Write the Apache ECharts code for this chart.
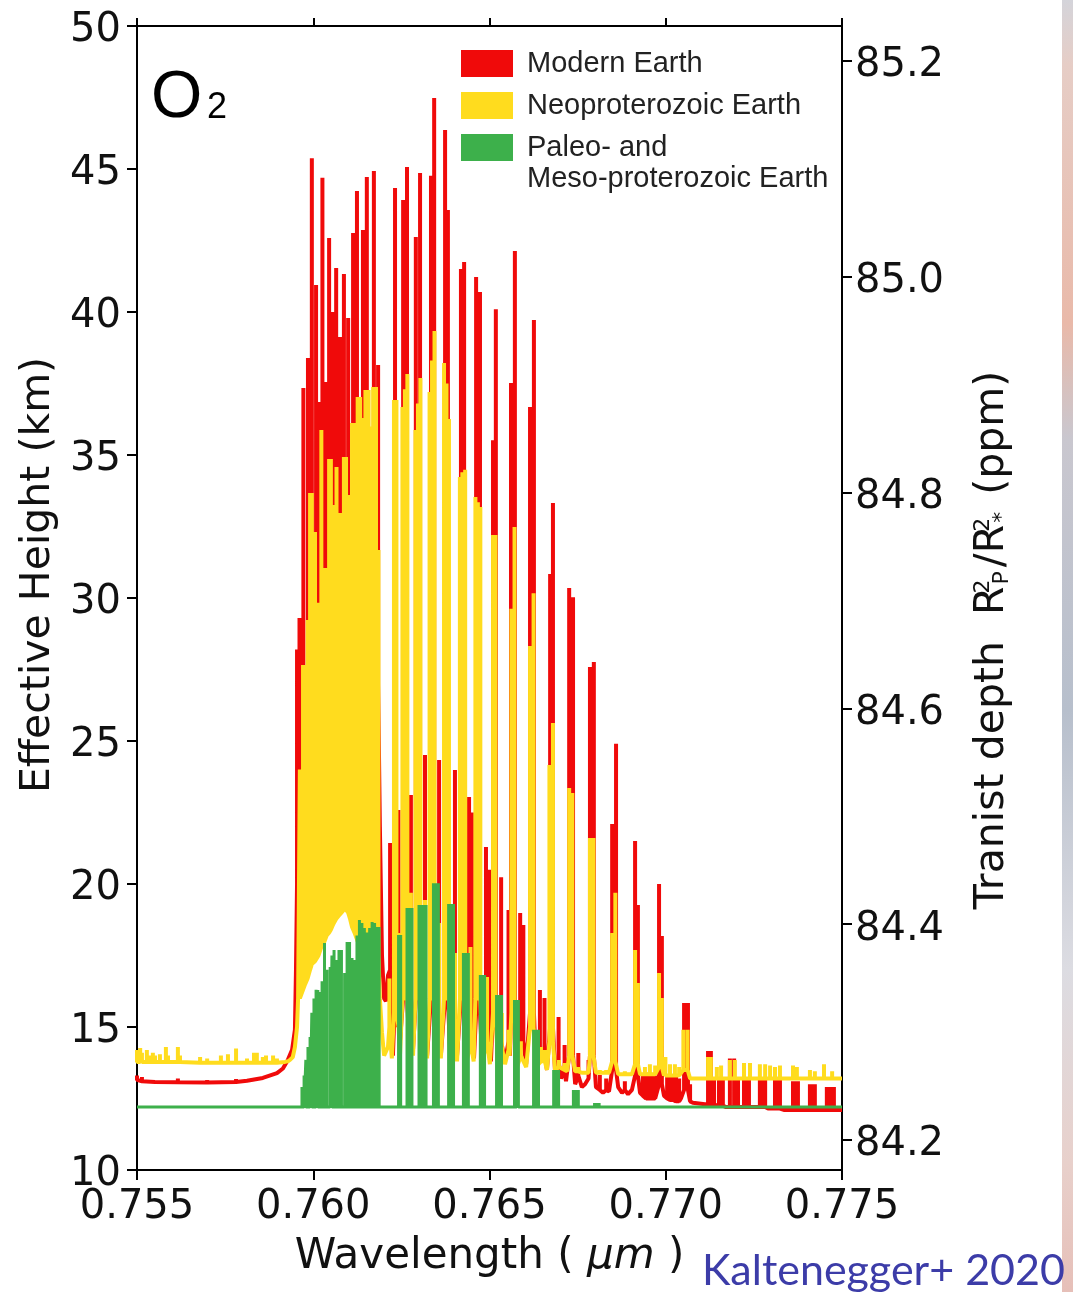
<!DOCTYPE html>
<html><head><meta charset="utf-8">
<script src="https://cdn.jsdelivr.net/npm/echarts@6/dist/echarts.min.js"></script>
<style>html,body{margin:0;padding:0;background:#fff}#chart{width:1073px;height:1292px}</style>
</head><body><div id="chart"></div>
<script>
// ---- axis ticks ----
const xTicks = [0.755, 0.760, 0.765, 0.770, 0.775];
const heightTicks = [10, 15, 20, 25, 30, 35, 40, 45, 50];
const depthTicks = [84.2, 84.4, 84.6, 84.8, 85.0, 85.2];

// ---- spectra: [wavelength (um), level (km), line peak (km) or null] ----
const modernEarth = [
 [0.75500,13.15,13.3],[0.75514,13.1,13.25],[0.75551,13.08,null],[0.75616,13.07,13.2],[0.75699,13.06,13.15],
 [0.75781,13.08,13.18],[0.75812,13.12,null],[0.75857,13.22,null],[0.75897,13.39,null],[0.75914,13.55,null],
 [0.75928,13.85,null],[0.75940,14.2,null],[0.75948,14.9,null],[0.75951,17.0,null],
 [0.75954,20.0,28.2],[0.75961,22.0,29.3],[0.75972,27,37.34],[0.75985,27,38.39],[0.75996,27,45.38],
 [0.76008,27,40.94],[0.76018,27,36.85],[0.76026,27,44.69],[0.76035,27,37.55],[0.76045,27,42.59],
 [0.76056,27,40.0],[0.76065,27,41.54],[0.76076,27,39.13],[0.76087,27,41.33],[0.76099,27,39.79],
 [0.76113,27,42.76],[0.76124,27,44.23],[0.76141,27,42.87],[0.76152,27,44.72],[0.76172,27,44.93],
 [0.76184,27,38.15],
 [0.76189,22,null],[0.76195,17.5,null],[0.76201,16.0,null],[0.76206,15.9,null],[0.76212,16.8,null],
 [0.76218,17.0,21.43],[0.76226,14.0,null],
 [0.76232,16,44.34],[0.76238,15.0,null],[0.76242,15.5,22.59],[0.76246,14.5,null],
 [0.76255,16,43.92],[0.76260,16.5,null],[0.76266,16,45.07],[0.76272,14.5,null],[0.76277,15,23.11],[0.76283,14.2,null],
 [0.76291,16,42.62],[0.76297,16.5,null],[0.76303,16,44.86],[0.76309,14.2,null],[0.76317,15,24.51],[0.76323,14.0,null],
 [0.76334,16,44.76],[0.76338,16.5,null],[0.76343,16,47.48],[0.76348,14.2,null],[0.76357,15,24.34],[0.76362,14.0,null],
 [0.76374,16,46.36],[0.76378,16.5,null],[0.76382,16,43.57],[0.76388,14.2,null],[0.76402,15,23.99],[0.76408,14.0,null],
 [0.76419,16,41.50],[0.76423,16.5,null],[0.76428,16,41.75],[0.76433,14.0,null],[0.76442,15,23.04],[0.76450,15,22.5],[0.76456,13.9,null],
 [0.76462,15.5,41.22],[0.76467,16,null],[0.76473,15.5,40.70],[0.76479,13.9,null],[0.76490,14.5,21.29],[0.76499,14.5,20.5],[0.76504,13.8,null],
 [0.76510,15.5,35.52],[0.76514,16,null],[0.76518,15.5,40.10],[0.76524,13.8,null],[0.76533,14.5,20.24],[0.76544,13.8,null],[0.76554,14.5,19.09],[0.76558,14,null],
 [0.76561,15.5,37.52],[0.76567,16,null],[0.76572,15.5,42.13],[0.76578,13.8,null],[0.76587,14.5,18.99],[0.76596,14.5,18.57],[0.76604,13.7,null],
 [0.76615,15.5,36.68],[0.76621,16,null],[0.76626,15.5,39.72],[0.76632,13.6,null],[0.76643,14.2,16.29],[0.76656,14.2,16.01],[0.76663,13.5,null],
 [0.76672,15,30.84],[0.76676,15.5,null],[0.76680,15,33.32],[0.76686,13.4,null],[0.76696,13.8,15.35],[0.76703,13.2,null],[0.76713,13.5,14.37],[0.76717,13.1,null],
 [0.76726,14,30.35],[0.76731,14.5,null],[0.76737,14,30.03],[0.76743,13.0,null],[0.76752,13.3,14.09],[0.76762,12.9,null],[0.76771,13.0,null],[0.76781,13.2,13.85],
 [0.76785,14,27.59],[0.76791,14.3,null],[0.76796,14,27.76],[0.76802,12.9,null],[0.76813,12.8,13.32],[0.76822,12.7,null],[0.76831,12.8,13.2],[0.76839,12.75,null],
 [0.76848,13.5,22.10],[0.76853,13.8,null],[0.76859,13.5,24.90],[0.76865,12.9,null],[0.76876,12.7,null],[0.76884,12.8,13.1],[0.76893,12.65,null],[0.76904,12.8,null],
 [0.76913,13.3,21.50],[0.76917,13.5,null],[0.76921,13.3,19.27],[0.76927,12.7,null],[0.76935,12.6,13.3],[0.76944,12.5,13.3],[0.76952,12.5,13.4],[0.76961,12.5,13.3],[0.76970,12.5,13.3],
 [0.76981,13.0,20.0],[0.76985,13.2,null],[0.76989,13.0,18.18],[0.76995,12.6,null],[0.77004,12.5,13.3],[0.77012,12.45,13.4],[0.77021,12.45,13.3],[0.77029,12.4,13.3],[0.77038,12.4,13.2],[0.77043,12.5,null],
 [0.77052,12.8,15.84],[0.77057,13.0,null],[0.77063,12.8,15.84],[0.77069,12.4,13.0],[0.77077,12.35,null],[0.77111,12.3,null],
 [0.77120,12.3,14.16],[0.77128,12.3,14.16],[0.77137,12.3,13.2],[0.77145,12.25,null],[0.77151,12.25,13.15],[0.77162,12.25,13.15],[0.77171,12.2,null],
 [0.77182,12.2,13.9],[0.77194,12.2,13.9],[0.77205,12.2,13.2],[0.77211,12.2,null],[0.77222,12.2,13.15],[0.77229,12.2,13.15],[0.77236,12.2,13.15],[0.77248,12.2,null],
 [0.77267,12.2,13.15],[0.77274,12.2,13.15],[0.77282,12.2,13.15],[0.77290,12.15,null],[0.77310,12.15,13.15],[0.77317,12.15,13.15],[0.77324,12.15,13.15],[0.77335,12.1,null],
 [0.77361,12.1,13.1],[0.77368,12.1,13.1],[0.77375,12.1,13.1],[0.77384,12.1,null],[0.77409,12.1,13.0],[0.77416,12.1,13.0],[0.77423,12.1,13.0],[0.77432,12.1,null],
 [0.77457,12.1,12.9],[0.77467,12.1,12.9],[0.77477,12.1,12.9],[0.77483,12.1,null],[0.77500,12.1,null]
];

const neoproterozoicEarth = [
 [0.75500,13.78,14.2],[0.75509,13.78,14.27],[0.75514,13.78,14.1],[0.75528,13.78,14.2],[0.75537,13.78,14.0],[0.75545,13.78,14.1],
 [0.75551,13.78,14.0],[0.75565,13.78,14.05],[0.75582,13.78,14.3],[0.75588,13.78,14.0],[0.75616,13.78,14.3],[0.75622,13.78,14.0],
 [0.75679,13.75,13.95],[0.75699,13.75,13.9],[0.75738,13.75,14.0],[0.75758,13.75,14.05],[0.75781,13.75,14.25],[0.75812,13.75,13.9],
 [0.75832,13.75,14.1],[0.75840,13.75,14.1],[0.75857,13.75,13.95],[0.75866,13.75,14.0],[0.75886,13.75,14.0],[0.75897,13.75,13.9],
 [0.75920,13.78,null],[0.75928,13.8,null],[0.75934,13.85,null],[0.75942,13.95,null],[0.75948,14.3,null],[0.75954,15.0,null],[0.75957,16.0,null],
 [0.75962,16.0,24.0],[0.75971,16.3,27.66],[0.75977,16.5,27.66],[0.75984,16.7,29.23],[0.75991,17.0,33.67],[0.75996,17.2,33.67],
 [0.76005,17.3,32.31],[0.76015,17.5,29.83],[0.76023,17.8,35.87],[0.76032,18.0,31.05],[0.76038,18.2,31.05],[0.76045,18.3,34.86],
 [0.76050,18.4,34.86],[0.76057,18.6,33.25],[0.76066,18.8,34.58],[0.76073,18.9,32.97],[0.76080,19.0,32.97],[0.76087,19.1,34.93],
 [0.76093,19.1,34.93],[0.76099,19.0,33.60],[0.76104,18.8,33.60],[0.76110,18.5,36.12],[0.76117,18.3,36.12],[0.76126,18.0,37.03],
 [0.76133,18.0,37.03],[0.76140,18.0,36.29],[0.76148,18.0,37.27],[0.76157,18.0,37.27],[0.76164,18.0,36.0],[0.76170,18.0,37.38],
 [0.76178,18.0,37.38],[0.76185,17.5,31.68],
 [0.76189,16.0,null],[0.76195,14.8,null],[0.76201,14.0,null],[0.76206,13.95,null],[0.76212,14.3,null],[0.76216,15.0,16.7],[0.76223,13.9,null],
 [0.76229,15.5,36.92],[0.76236,15.5,36.92],[0.76242,15,18.29],[0.76246,14.0,null],
 [0.76253,16,36.68],[0.76260,16,37.3],[0.76267,16,37.83],[0.76273,14.2,null],[0.76277,15,19.69],[0.76283,14.0,null],
 [0.76290,16,35.87],[0.76297,16,36.8],[0.76304,16,37.69],[0.76310,14.0,null],[0.76317,15,19.44],[0.76323,13.9,null],
 [0.76330,16,37.20],[0.76337,16,38.3],[0.76344,16,39.34],[0.76350,13.9,null],[0.76357,15,18.64],[0.76362,13.9,null],
 [0.76371,16,38.22],[0.76378,16,37.5],[0.76385,16,36.26],[0.76391,13.9,null],[0.76402,14.5,17.59],[0.76408,13.8,null],
 [0.76416,16,34.23],[0.76423,16,34.4],[0.76431,16,34.48],[0.76436,13.8,null],[0.76446,14.5,17.80],[0.76455,13.8,null],
 [0.76460,16,33.53],[0.76467,16,33.35],[0.76474,16,33.18],[0.76480,13.8,null],[0.76493,14.5,16.75],[0.76501,13.7,null],
 [0.76510,15.5,32.20],[0.76517,15.5,32.20],[0.76524,13.7,null],[0.76535,14.3,15.49],[0.76544,13.7,null],[0.76554,14.2,14.9],[0.76557,14,null],
 [0.76562,15.5,29.62],[0.76571,15.5,32.48],[0.76578,13.6,null],[0.76589,14.0,14.5],[0.76604,13.6,null],
 [0.76615,15,28.32],[0.76625,15,30.17],[0.76632,13.6,null],[0.76646,13.8,14.3],[0.76657,13.8,14.2],[0.76663,13.5,null],
 [0.76670,14.5,24.16],[0.76680,14.5,25.63],[0.76686,13.5,null],[0.76697,13.6,13.85],[0.76713,13.5,13.74],[0.76720,13.45,null],
 [0.76726,14,23.36],[0.76735,14,23.18],[0.76743,13.45,null],[0.76752,13.45,13.6],[0.76762,13.4,null],[0.76781,13.4,13.57],
 [0.76785,14,21.61],[0.76795,14,21.61],[0.76802,13.4,null],[0.76813,13.4,13.5],[0.76831,13.4,13.5],[0.76839,13.4,null],
 [0.76848,13.8,18.29],[0.76857,13.8,19.69],[0.76865,13.35,null],[0.76884,13.35,13.45],[0.76904,13.35,null],
 [0.76913,13.7,17.69],[0.76921,13.7,16.54],[0.76927,13.35,null],[0.76941,13.35,13.6],[0.76955,13.35,13.7],[0.76970,13.35,13.65],
 [0.76981,13.6,16.89],[0.76989,13.6,16.01],[0.76995,13.3,null],[0.76999,13.3,13.95],[0.77012,13.3,13.7],[0.77026,13.3,13.7],[0.77038,13.3,13.6],[0.77043,13.3,null],
 [0.77050,13.5,14.9],[0.77062,13.5,14.9],[0.77069,13.2,null],[0.77111,13.2,null],
 [0.77120,13.2,13.95],[0.77128,13.2,13.95],[0.77145,13.2,13.6],[0.77157,13.2,13.65],[0.77182,13.2,13.85],[0.77196,13.2,13.85],
 [0.77222,13.2,13.74],[0.77239,13.2,13.74],[0.77267,13.2,13.7],[0.77282,13.2,13.7],[0.77296,13.2,13.65],[0.77310,13.2,13.6],[0.77324,13.2,13.65],
 [0.77361,13.2,13.65],[0.77372,13.2,13.6],[0.77409,13.2,13.5],[0.77423,13.2,13.45],[0.77449,13.2,13.7],[0.77472,13.2,13.45],[0.77500,13.2,null]
];

const paleoMesoEarth = [
 [0.75500,12.2,null],[0.75962,12.2,null],
 [0.75968,12.2,12.9],[0.75974,12.2,13.3],[0.75979,12.2,13.85],[0.75985,12.2,14.3],[0.75991,12.2,14.65],[0.75996,12.2,15.5],
 [0.76002,12.2,16.0],[0.76008,12.2,16.3],[0.76013,12.2,16.29],[0.76019,12.2,16.22],[0.76025,12.2,16.6],[0.76032,12.2,17.94],
 [0.76039,12.2,17.0],[0.76048,12.2,17.1],[0.76053,12.2,17.5],[0.76059,12.2,17.69],[0.76066,12.2,17.34],[0.76073,12.2,17.69],
 [0.76080,12.2,17.69],[0.76089,12.2,16.89],[0.76096,12.2,17.97],[0.76103,12.2,17.97],[0.76110,12.2,17.41],[0.76117,12.2,17.34],
 [0.76124,12.2,18.2],[0.76131,12.2,18.74],[0.76138,12.2,18.64],[0.76145,12.2,18.46],[0.76152,12.2,18.3],[0.76160,12.2,18.46],
 [0.76167,12.2,18.67],[0.76174,12.2,18.64],[0.76181,12.2,18.5],[0.76187,12.2,18.5],[0.76192,12.2,null],
 [0.76242,12.2,18.22],[0.76248,12.2,18.22],
 [0.76266,12.2,19.16],[0.76273,12.2,19.16],[0.76280,12.2,19.16],
 [0.76300,12.2,19.27],[0.76307,12.2,19.27],[0.76314,12.2,19.27],[0.76320,12.2,19.27],
 [0.76341,12.2,20.03],[0.76348,12.2,20.03],[0.76355,12.2,20.03],
 [0.76384,12.2,19.30],[0.76391,12.2,19.30],[0.76398,12.2,19.30],
 [0.76426,12.2,17.59],[0.76433,12.2,17.59],[0.76440,12.2,17.59],
 [0.76474,12.2,16.82],[0.76480,12.2,16.82],[0.76486,12.2,16.82],
 [0.76520,12.2,16.12],[0.76527,12.2,16.12],[0.76534,12.2,16.12],
 [0.76571,12.2,15.94],[0.76577,12.2,15.94],[0.76582,12.2,15.94],
 [0.76625,12.2,14.90],[0.76632,12.2,14.90],[0.76639,12.2,14.90],
 [0.76682,12.2,13.50],[0.76689,12.2,13.50],[0.76696,12.2,13.50],
 [0.76738,12.2,12.80],[0.76745,12.2,12.80],[0.76752,12.2,12.80],
 [0.76798,12.2,12.34],[0.76805,12.2,12.34],[0.76811,12.2,12.34],
 [0.77500,12.2,null]
];

const seriesNames = ['Modern Earth', 'Neoproterozoic Earth', 'Paleo- and Meso-proterozoic Earth'];
const seriesColors = ['#f00a0a', '#ffdc1e', '#3db04b'];

function buildPath(rows) {
  const pts = [];
  rows.forEach(function (r) {
    pts.push([r[0], r[1]]);
    if (r[2] !== null && r[2] !== undefined) { pts.push([r[0], r[2]]); pts.push([r[0], r[1]]); }
  });
  return pts;
}

const AX = '#000';
const FONT = 'DejaVu Sans';
const chart = echarts.init(document.getElementById('chart'), null, {renderer: 'canvas'});

function spec(i, rows, width) {
  return {
    type: 'line', name: seriesNames[i], data: buildPath(rows),
    xAxisIndex: 0, yAxisIndex: 0,
    symbol: 'none', showSymbol: false, smooth: false, silent: true,
    lineStyle: {color: seriesColors[i], width: width, join: 'bevel', cap: 'butt'},
    itemStyle: {color: seriesColors[i]},
    emphasis: {disabled: true}, z: 2 + i, clip: true
  };
}

const tickRich = {t: {fontSize: 40, fontFamily: FONT, color: '#111', padding: [10, 0, 0, 0]}};

const option = {
  animation: false,
  backgroundColor: '#ffffff',
  grid: {left: 137, right: 231, top: 26, bottom: 122, containLabel: false},
  legend: {
    orient: 'vertical', left: 461, top: 49, padding: 0, itemWidth: 52, itemHeight: 27, itemGap: 13,
    icon: 'rect', selectedMode: false, data: seriesNames,
    textStyle: {fontSize: 29, fontFamily: 'Liberation Sans', color: '#222', lineHeight: 27, padding: [0, 0, 0, 9]},
    formatter: function (n) { return n === seriesNames[2] ? 'Paleo- and' : n; }
  },
  xAxis: [
    {
      type: 'value', position: 'bottom', min: xTicks[0], max: xTicks[xTicks.length - 1], interval: 0.005,
      axisLine: {show: true, onZero: false, lineStyle: {color: AX, width: 2}},
      axisTick: {show: true, length: 10, lineStyle: {color: AX, width: 2}},
      axisLabel: {show: true, fontSize: 40, fontFamily: FONT, color: '#111', margin: 18,
        showMinLabel: true, showMaxLabel: true, formatter: function (v) { return v.toFixed(3); }},
      splitLine: {show: false},
      name: 'Wavelength ( {i|μm} )', nameLocation: 'middle', nameGap: 66,
      nameTextStyle: {fontSize: 42, fontFamily: FONT, color: '#111',
        rich: {i: {fontSize: 42, fontFamily: FONT, fontStyle: 'italic', color: '#111'}}}
    },
    {
      type: 'value', position: 'top', min: xTicks[0], max: xTicks[xTicks.length - 1], interval: 0.005,
      axisLine: {show: true, onZero: false, lineStyle: {color: AX, width: 2}},
      axisTick: {show: true, length: 8, lineStyle: {color: AX, width: 2}},
      axisLabel: {show: false}, splitLine: {show: false}
    }
  ],
  yAxis: [
    {
      type: 'value', position: 'left', min: heightTicks[0], max: heightTicks[heightTicks.length - 1], interval: 5,
      axisLine: {show: true, onZero: false, lineStyle: {color: AX, width: 2}},
      axisTick: {show: true, length: 10, lineStyle: {color: AX, width: 2}},
      axisLabel: {fontSize: 40, fontFamily: FONT, color: '#111', margin: 16, rich: tickRich,
        formatter: function (v) { return '{t|' + v + '}'; }},
      splitLine: {show: false},
      name: 'Effective Height (km)', nameLocation: 'middle', nameRotate: 90, nameGap: 78,
      nameTextStyle: {fontSize: 41, fontFamily: FONT, color: '#111', padding: [0, 0, 0, 46]}
    },
    {
      type: 'value', position: 'right', min: 84.1722, max: 85.2324,
      axisLine: {show: true, onZero: false, lineStyle: {color: AX, width: 2}},
      axisTick: {show: true, length: 10, customValues: depthTicks, lineStyle: {color: AX, width: 2}},
      axisLabel: {fontSize: 40, fontFamily: FONT, color: '#111', margin: 13, customValues: depthTicks, rich: tickRich,
        formatter: function (v) { return '{t|' + v.toFixed(1) + '}'; }},
      splitLine: {show: false},
      name: 'Tranist depth  R{sup|2}{sub|P}/R{sup|2}{sub|*} (ppm)', nameLocation: 'middle', nameRotate: 90, nameGap: 130,
      nameTextStyle: {fontSize: 41, fontFamily: FONT, color: '#111', padding: [0, 84, 0, 0],
        rich: {
          sup: {fontSize: 22, fontFamily: FONT, color: '#111', verticalAlign: 'top', width: 0, align: 'left'},
          sub: {fontSize: 22, fontFamily: FONT, color: '#111', verticalAlign: 'bottom', padding: [0, 4, 0, 2]}
        }}
    }
  ],
  graphic: [
    {type: 'text', x: 151, y: 66, silent: true, style: {text: 'O', fontSize: 66, fontFamily: 'Liberation Sans', fill: '#000', verticalAlign: 'top'}},
    {type: 'text', x: 207, y: 90, silent: true, style: {text: '2', fontSize: 36, fontFamily: 'Liberation Sans', fill: '#000', verticalAlign: 'top'}},
    {type: 'text', x: 527, y: 164, silent: true, style: {text: 'Meso-proterozoic Earth', fontSize: 29, fontFamily: 'Liberation Sans', fill: '#222', verticalAlign: 'top'}},
    {type: 'text', x: 702, y: 1250, silent: true, style: {text: 'Kaltenegger+ 2020', fontSize: 43, fontFamily: 'Lato', fill: '#3c3ca8', verticalAlign: 'top'}},
    {type: 'rect', shape: {x: 1062, y: 0, width: 11, height: 1292}, silent: true, z: -1,
      style: {fill: new echarts.graphic.LinearGradient(0, 0, 0, 1, [
        {offset: 0, color: '#d4d4da'}, {offset: 0.05, color: '#e6cdc6'}, {offset: 0.25, color: '#e9b9a9'},
        {offset: 0.34, color: '#c9c7cf'}, {offset: 0.55, color: '#b7bfcc'}, {offset: 0.75, color: '#dcdce2'},
        {offset: 0.9, color: '#e8d0cb'}, {offset: 1, color: '#e6bfb8'}])}}
  ],
  series: [
    spec(0, modernEarth, 4),
    spec(1, neoproterozoicEarth, 4),
    spec(2, paleoMesoEarth, 3)
  ]
};
chart.setOption(option);
</script></body></html>
